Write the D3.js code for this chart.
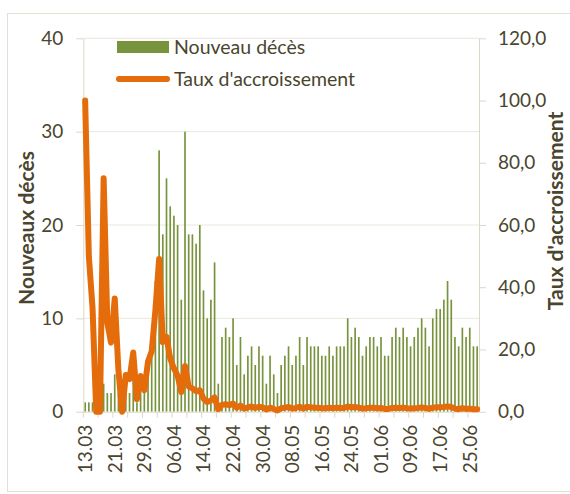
<!DOCTYPE html>
<html>
<head>
  <meta charset="utf-8">
  <title>Nouveaux décès</title>
  <script src="https://cdn.jsdelivr.net/npm/d3@7"></script>
  <style>
    body { margin: 0; background: #fff; }
    text { font-family: Lato, "Open Sans", sans-serif; fill: #4a452e; }
  </style>
</head>
<body>
<svg id="chart" width="570" height="494"></svg>
<script>
  // daily new deaths, 13.03 -> 27.06
  const deaths = [
    1, 1, 1, 0, 0, 3, 2, 2, 4, 2, 0, 2, 2, 4, 1, 3, 2, 5, 7, 14,
    28, 19, 25, 22, 21, 20, 12, 30, 19, 19, 18, 20, 13, 10, 12, 16, 3, 8, 9, 8,
    10, 5, 8, 4, 6, 7, 5, 7, 6, 3, 6, 4, 2, 5, 6, 7, 5, 6, 8, 5,
    8, 7, 7, 7, 6, 6, 7, 6, 7, 7, 7, 10, 8, 9, 8, 6, 7, 8, 8, 7,
    8, 6, 6, 8, 9, 8, 9, 8, 7, 8, 9, 10, 9, 7, 10, 11, 11, 12, 14, 12,
    8, 7, 9, 8, 9, 7, 7
  ];
  // growth rate (%)
  const rate = [
    100, 50, 33.3, 0, 0, 75, 28.6, 22.2, 36.4, 13.3, 0, 11.8, 10.5, 19.0, 4.0, 11.5, 6.9, 16.1, 19.4, 32.6,
    49.1, 22.4, 24.0, 17.1, 13.9, 11.6, 6.3, 14.7, 8.1, 7.5, 6.6, 6.9, 4.2, 3.1, 3.6, 4.6, 0.8, 2.2, 2.4, 2.1,
    2.6, 1.3, 2.0, 1.0, 1.4, 1.7, 1.2, 1.6, 1.4, 0.7, 1.3, 0.9, 0.4, 1.1, 1.3, 1.5, 1.0, 1.2, 1.6, 1.0,
    1.6, 1.4, 1.3, 1.3, 1.1, 1.1, 1.3, 1.1, 1.3, 1.2, 1.2, 1.7, 1.4, 1.5, 1.3, 1.0, 1.1, 1.3, 1.3, 1.1,
    1.2, 0.9, 0.9, 1.2, 1.3, 1.2, 1.3, 1.1, 1.0, 1.1, 1.2, 1.4, 1.2, 0.9, 1.3, 1.4, 1.4, 1.5, 1.7, 1.5,
    1.0, 0.8, 1.1, 0.9, 1.0, 0.8, 0.8
  ];
  const dayLabels = d3.timeDay.range(new Date(2020, 2, 13), new Date(2020, 5, 28)).map(d3.timeFormat("%d.%m"));
  const tickLabels = ["13.03", "21.03", "29.03", "06.04", "14.04", "22.04", "30.04",
                      "08.05", "16.05", "24.05", "01.06", "09.06", "17.06", "25.06"];
  const leftTicks = [0, 10, 20, 30, 40];
  const rightTicks = [0, 20, 40, 60, 80, 100, 120];

  const svg = d3.select("#chart");
  const pLeft = 83.3, pRight = 479, pTop = 38.3, pBottom = 411.7;
  const beige = "#dcd7c6";

  // outer frame
  svg.append("rect")
    .attr("x", 7.5).attr("y", 13.5)
    .attr("width", 570).attr("height", 478)
    .attr("fill", "none").attr("stroke", "#e3dfd2");

  const x = d3.scaleBand().domain(dayLabels).range([pLeft, pRight])
    .paddingInner(0.55).paddingOuter(0.275);
  const xb = d3.scaleLinear().domain([0, dayLabels.length]).range([pLeft, pRight]);
  const yL = d3.scaleLinear().domain([0, 40]).range([pBottom, pTop]);
  const yR = d3.scaleLinear().domain([0, 120]).range([pBottom, pTop]);

  // gridlines
  svg.append("g").selectAll("line")
    .data(leftTicks.slice(1))
    .join("line")
    .attr("x1", pLeft).attr("x2", pRight)
    .attr("y1", d => yL(d)).attr("y2", d => yL(d))
    .attr("stroke", "#ebe7dd").attr("stroke-width", 1);

  // bars
  svg.append("g").selectAll("rect")
    .data(deaths)
    .join("rect")
    .attr("x", (d, i) => x(dayLabels[i]))
    .attr("width", x.bandwidth())
    .attr("y", d => yL(d))
    .attr("height", d => pBottom - yL(d))
    .attr("fill", "#77933c");

  // left axis
  const axL = svg.append("g").attr("transform", `translate(${pLeft},0)`)
    .call(d3.axisLeft(yL).tickValues(leftTicks).tickSize(7).tickSizeOuter(0).tickPadding(13));
  // right axis
  const axR = svg.append("g").attr("transform", `translate(${pRight},0)`)
    .call(d3.axisRight(yR).tickValues(rightTicks).tickSize(7).tickSizeOuter(0).tickPadding(12)
      .tickFormat(d => d3.format(".1f")(d).replace(".", ",")));
  // bottom axis
  const axB = svg.append("g").attr("transform", `translate(0,${pBottom})`)
    .call(d3.axisBottom(x).tickValues(tickLabels).tickSize(0).tickSizeOuter(0));
  axB.selectAll("text")
    .attr("transform", "rotate(-90)")
    .attr("x", -13).attr("y", 0).attr("dy", "0.36em")
    .style("text-anchor", "end");
  axB.append("g").selectAll("line")
    .data(d3.range(0, dayLabels.length, 4))
    .join("line")
    .attr("x1", d => xb(d)).attr("x2", d => xb(d))
    .attr("y1", 0).attr("y2", 6)
    .attr("stroke", beige);

  [axL, axR, axB].forEach(g => {
    g.selectAll("path, line").attr("stroke", beige);
    g.selectAll("text").attr("fill", "#4a452e")
      .style("font-family", "Lato, sans-serif").style("font-size", "19px");
  });

  // growth rate line
  const line = d3.line()
    .x((d, i) => x(dayLabels[i]) + x.bandwidth() / 2)
    .y(d => yR(d));
  svg.append("path")
    .datum(rate)
    .attr("d", line)
    .attr("fill", "none")
    .attr("stroke", "#e46c0a")
    .attr("stroke-width", 6)
    .attr("stroke-linejoin", "round")
    .attr("stroke-linecap", "round");

  // axis titles
  svg.append("text")
    .attr("transform", "translate(34,228) rotate(-90)")
    .attr("text-anchor", "middle")
    .style("font-size", "21px").style("font-weight", "bold")
    .text("Nouveaux décès");
  svg.append("text")
    .attr("transform", "translate(563,211) rotate(-90)")
    .attr("text-anchor", "middle")
    .style("font-size", "21px").style("font-weight", "bold")
    .text("Taux d'accroissement");

  // legend
  const legend = svg.append("g");
  legend.append("rect")
    .attr("x", 117).attr("y", 41).attr("width", 52).attr("height", 12)
    .attr("fill", "#77933c");
  legend.append("line")
    .attr("x1", 119).attr("x2", 167).attr("y1", 79).attr("y2", 79)
    .attr("stroke", "#e46c0a").attr("stroke-width", 6).attr("stroke-linecap", "round");
  legend.append("text").attr("x", 174).attr("y", 53.5)
    .style("font-size", "19.5px").text("Nouveau décès");
  legend.append("text").attr("x", 174).attr("y", 85.5)
    .style("font-size", "19.5px").text("Taux d'accroissement");
</script>
</body>
</html>
